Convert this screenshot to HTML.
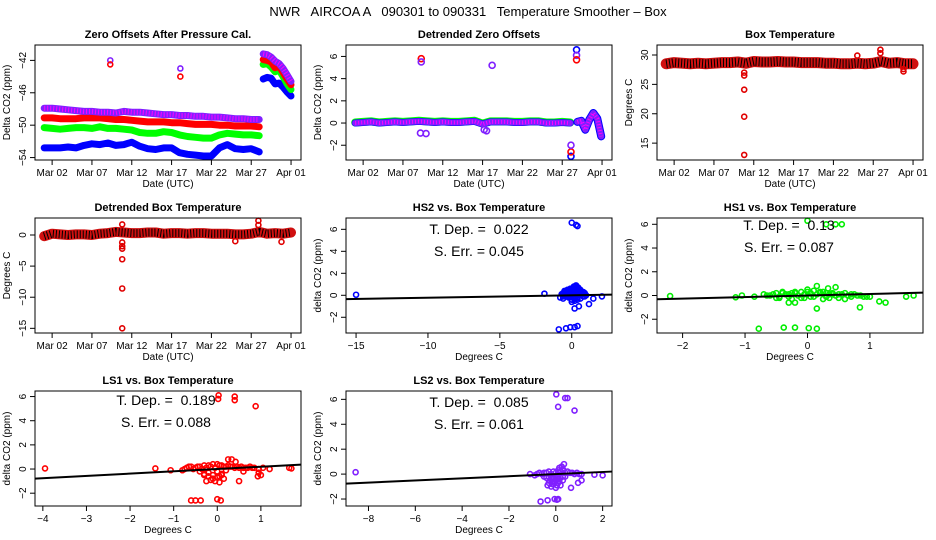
<!DOCTYPE html>
<html><head><meta charset="utf-8"><style>
html,body{margin:0;padding:0;background:#fff;}
svg{display:block;font-family:"Liberation Sans",sans-serif;}
text{white-space:pre;}
</style></head><body>
<svg id="fig" width="936" height="540" viewBox="0 0 936 540">
<text x="468" y="16" text-anchor="middle" font-size="13" xml:space="preserve">NWR   AIRCOA A   090301 to 090331   Temperature Smoother – Box</text>
</svg>
<script>
// ---- Data (days since Mar 01) ----
const dateTicks = [1, 6, 11, 16, 21, 26, 31];
const dateTickLabels = ["Mar 02","Mar 07","Mar 12","Mar 17","Mar 22","Mar 27","Apr 01"];
const mainDays = [0,1,2,3,4,5,6,7,8,9,10,11,12,13,14,15,16,17,18,19,20,21,22,23,24,25,26,27];
const endDays = [27.5,28,28.5,29,29.5,30,30.5,31];
const zeroPurple = [-47.9,-47.9,-48.0,-48.1,-48.2,-48.3,-48.3,-48.4,-48.4,-48.5,-48.3,-48.4,-48.4,-48.5,-48.6,-48.7,-48.7,-48.8,-48.8,-48.9,-48.9,-49.0,-49.0,-49.1,-49.2,-49.2,-49.3,-49.3];
const zeroRed = [-49.1,-49.1,-49.2,-49.2,-49.2,-49.1,-49.1,-49.1,-49.2,-49.3,-49.3,-49.4,-49.5,-49.6,-49.6,-49.6,-49.7,-49.7,-49.8,-49.9,-49.9,-49.9,-50.0,-50.0,-50.1,-50.1,-50.1,-50.2];
const zeroGreen = [-50.3,-50.4,-50.5,-50.4,-50.3,-50.3,-50.4,-50.2,-50.4,-50.4,-50.5,-50.6,-50.9,-51.0,-51.0,-50.8,-50.9,-51.2,-51.4,-51.5,-51.6,-51.6,-51.2,-51.0,-51.1,-51.2,-51.2,-51.3];
const zeroBlue = [-52.8,-52.8,-52.8,-52.7,-52.8,-52.5,-52.3,-52.4,-52.2,-52.5,-52.4,-52.1,-52.6,-52.9,-53.0,-52.8,-52.8,-53.4,-53.6,-53.7,-53.8,-53.8,-52.8,-52.4,-52.9,-53.0,-52.9,-53.3];
const endPurple = [-41.2,-41.3,-41.6,-42.1,-42.4,-43.0,-43.8,-44.6];
const endRed = [-41.9,-42.0,-42.2,-42.9,-42.7,-43.5,-44.3,-45.0];
const endGreen = [-42.5,-42.4,-42.8,-43.4,-43.2,-44.0,-44.9,-45.6];
const endBlue = [-44.3,-44.1,-44.2,-44.9,-44.8,-45.3,-45.9,-46.4];
const zeroOutDays = [8.3, 8.3, 17.1, 17.1];
const zeroOutVals = [-42.0, -42.5, -43.0, -44.0];
const zeroOutColors = ["#8020ff","red","#8020ff","red"];

const detMain = [0,0.05,0.1,0,0.05,0.1,0.05,0.1,0.15,0.1,0.05,0.1,0.05,0.05,0.1,0.15,-0.1,0.1,0.1,0.1,0.05,0.05,0.1,0.1,0,0,0.05,0];
const detEndDays = [27.9,28.4,28.9,29.4,29.9,30.4,30.9];
const detEnd = [0.1,0.2,-0.6,0.3,0.9,0.4,-1.2];
const detOutDays = [8.3,8.3,8.2,8.9,16.2,16.5,17.2,27.1,27.1,27.1,27.8,27.8,27.8];
const detOutVals = [5.8,5.5,-0.9,-0.95,-0.6,-0.7,5.2,-3.0,-2.6,-2.0,6.6,6.1,5.7];
const detOutColors = ["red","#8020ff","#8020ff","#8020ff","#8020ff","#8020ff","#8020ff","blue","red","#8020ff","blue","#8020ff","red"];

const boxDays = [0,1,2,3,4,5,6,7,8,9,10,11,12,13,14,15,16,17,18,19,20,21,22,23,24,25,26,27,28,29,30,31];
const boxTemp = [28.5,28.7,28.6,28.5,28.6,28.5,28.6,28.7,28.7,28.8,28.6,28.9,28.8,28.8,28.9,28.8,28.8,28.7,28.7,28.7,28.6,28.6,28.5,28.5,28.6,28.5,28.6,28.9,28.6,28.7,28.5,28.5];
const boxOutDays = [9.8,9.8,9.8,9.8,9.8,24.0,26.9,26.9,29.8,29.8];
const boxOutVals = [27.0,26.5,24.1,19.5,13.0,29.9,30.9,30.3,27.6,27.2];

const detBox = [-0.2,0.2,0.1,0,0.1,0.1,0,0.2,0.3,0.5,0.4,0.3,0.3,0.4,0.4,0.2,0.3,0.3,0.2,0.3,0.3,0.2,0.2,0.2,0.1,0.1,0.2,0.5,0.2,0.3,0.2,0.4];
const detBoxOutDays = [9.8,9.8,9.8,9.8,9.8,9.8,9.8,26.9,26.9,29.8,24.0];
const detBoxOutVals = [1.7,-1.2,-1.8,-2.2,-3.9,-8.6,-15.0,2.3,1.6,-1.1,-1.0];

// scatter: HS2
const hs2X = [-15,-1.9,0,0.3,0.4,-0.9,-0.4,-0.1,0.2,0.4,0.2,0.5,1.2,1.5,2.1,-0.8,-0.6,-0.5,-0.3,-0.2,-0.1,0,0.1,0.2,0.3,0.4,0.5,0.6,0.7,0.8,0.9,1.0,-0.6,-0.4,-0.2,0,0.2,0.4,0.6,0.8,-0.3,-0.1,0.1,0.3,0.5,0,0.2,0.4,-0.5,0.9,
 -0.7,-0.5,-0.3,-0.1,0.1,0.3,0.5,0.7,-0.6,-0.4,-0.2,0,0.2,0.4,0.6,-0.5,-0.3,-0.1,0.1,0.3,0.5,-0.2,0,0.2,0.4,0.15,0.3,0.45,0.6,0.8];
const hs2Y = [0.05,0.15,6.6,6.4,6.3,-3.1,-3.0,-2.9,-2.9,-2.8,-1.2,-1.0,-0.8,-0.3,-0.1,-0.2,0.2,0.1,0.3,0.4,0.3,0.5,0.5,0.7,0.8,0.6,0.4,0.3,0.2,0.1,0.2,0,-0.3,-0.1,-0.2,-0.4,-0.3,-0.2,-0.3,-0.1,0,0.1,0.2,0.1,0,-0.6,-0.5,-0.4,0.1,-0.1,
 0.1,0.3,0.2,0.1,0.3,0.4,0.2,0.1,-0.1,0,0.5,0.2,0.1,0,0.1,0.4,0.5,0.6,0.6,0.6,0.5,-0.1,0.0,-0.1,0.2,0.8,0.9,0.7,0.5,0.3];
const hs2Slope = 0.022, hs2Int = 0;
// HS1
const hs1X = [-2.2,-1.15,-1.05,-0.85,-0.78,-0.38,-0.2,0.02,0.15,0.3,0.45,0.55,0,0.33,0.45,0.15,0.84,1.15,1.25,1.58,1.7,-0.7,-0.6,-0.5,-0.4,-0.3,-0.2,-0.1,0,0.1,0.2,0.3,0.4,0.5,0.6,0.7,0.8,0.9,1.0,-0.45,-0.25,-0.05,0.05,0.25,-0.3,-0.2,0.15,0.35,0.6,0.95,
 -0.65,-0.55,-0.45,-0.35,-0.25,-0.15,-0.05,0.05,0.15,0.25,0.35,0.45,0.55,0.65,0.75,0.85,-0.5,-0.3,-0.1,0.1,0.3,0.5,0.7,-0.4,-0.2,0,0.2,0.4];
const hs1Y = [-0.05,-0.15,0,-0.1,-2.8,-2.7,-2.7,-2.75,-2.8,6.0,6.0,6.0,6.3,0.6,0.7,0.8,-1.0,-0.5,-0.6,-0.1,0,0.1,0,0.2,0.3,0.1,0.2,0.3,0.5,0.4,0.3,0.2,0.2,0.1,0.2,0.1,0,-0.1,-0.1,-0.2,-0.3,-0.2,-0.1,-0.3,-0.6,-0.6,-1.1,-0.2,-0.3,-0.1,
 0,0.1,-0.1,0.1,0.2,0,0.1,0.2,0.1,0.3,0.1,0,0.1,0,0.1,0,-0.2,-0.1,-0.2,-0.1,-0.1,-0.2,-0.1,0.2,0.3,0.3,0.2,0.1];
const hs1Slope = 0.13, hs1Int = 0;
// LS1
const ls1X = [-3.95,-1.42,-1.07,-0.6,-0.5,-0.38,0,0.08,0.02,0.03,0.4,0.4,0.88,0.25,0.33,0.42,0.5,0.93,1.0,1.2,1.65,1.7,-0.8,-0.7,-0.6,-0.5,-0.4,-0.3,-0.2,-0.1,0,0.1,0.2,0.3,0.4,0.5,0.6,0.7,0.8,-0.3,-0.2,-0.1,0,0.1,-0.25,-0.05,0.05,0.15,0.6,0.95,
 -0.75,-0.65,-0.55,-0.45,-0.35,-0.25,-0.15,-0.05,0.05,0.15,0.25,0.35,0.45,0.55,0.65,0.75,-0.4,-0.2,0,0.2,-0.3,-0.1,0.1,-0.15,0.05,0.85,0.95,1.05];
const ls1Y = [0.05,0.05,-0.1,-2.6,-2.6,-2.6,-2.5,-2.6,5.8,6.1,5.7,6.0,5.2,0.8,0.8,0.6,-1.0,-0.6,-0.5,0,0.1,0.05,-0.1,0.1,0.2,0.1,0.2,0.3,0.3,0.4,0.4,0.3,0.2,0.2,0.1,0.1,0.1,0.1,0.1,-0.4,-0.6,-0.8,-0.7,-0.5,-1.0,-1.0,-1.1,-0.8,-0.2,-0.3,
 0,0.2,0,0.2,0,0.1,0.2,0.1,0.3,0.2,0.3,0.2,0.2,0.2,0.1,0.2,-0.2,-0.3,-0.2,-0.1,-0.5,-0.5,-0.4,-0.9,-0.6,0.1,0,0.1];
const ls1Slope = 0.189, ls1Int = 0;
// LS2
const ls2X = [-8.55,0.02,0.1,0.4,0.5,0.8,-0.65,-0.35,-0.05,0.05,0.1,0.65,0.95,1.1,1.65,2.0,-1.1,-0.9,-0.7,-0.5,-0.3,-0.1,0.1,0.3,0.5,0.7,0.9,1.1,-0.4,-0.2,0,0.2,0.4,-0.3,-0.1,0.1,0.3,-0.2,0,0.2,0.35,0.25,-0.35,-0.15,0.05,
 -0.8,-0.6,-0.4,-0.2,0,0.2,0.4,0.6,0.8,1.0,-0.5,-0.3,-0.1,0.1,0.3,-0.25,-0.05,0.15,-0.15,0.05,0.15,0.3,0.1,-0.1];
const ls2Y = [0.15,6.4,5.4,6.1,6.1,5.1,-2.2,-2.1,-2.0,-2.05,-2.0,-1.1,-0.7,-0.5,-0.05,-0.1,0,-0.1,0.1,0.1,0.2,0.2,0.3,0.3,0.2,0.1,0.1,0,-0.3,-0.4,-0.5,-0.3,-0.2,-0.7,-0.8,-0.7,-0.5,-1.0,-1.1,-0.9,0.8,0.6,-0.9,-0.6,-0.3,
 0,0,0.1,0,0.1,0.2,0.1,0.1,0,0,-0.2,-0.2,-0.3,-0.2,-0.2,-0.5,-0.6,-0.6,-0.8,-0.9,0.5,0.4,-0.4,-0.4];
const ls2Slope = 0.085, ls2Int = 0;

// ---- rendering ----
const NS = "http://www.w3.org/2000/svg";
const svg = document.getElementById("fig");
function mk(tag, attrs, parent){const e=document.createElementNS(NS,tag);for(const k in attrs)e.setAttribute(k,attrs[k]);(parent||svg).appendChild(e);return e;}
const PW=266, PH=115;

function panel(cfg){
  const g = mk("g",{});
  
  
  const L=cfg.left, T=cfg.top;
  const sx = v => L + (v-cfg.x0)/(cfg.x1-cfg.x0)*PW;
  const sy = v => T + (cfg.y1-v)/(cfg.y1-cfg.y0)*PH;
  const t = mk("text",{x:L+PW/2,y:T-7,"text-anchor":"middle","font-size":"11","font-weight":"bold"},g);
  t.textContent = cfg.title;
  
  
  const plot = mk("g",{},g);
  
  
  const box = mk("rect",{x:L,y:T,width:PW,height:PH,fill:"none",stroke:"#000","stroke-width":"1"},g);
  
  
  const xa = mk("g",{},g);
  
  
  cfg.xt.forEach((v,i)=>{
    const x=sx(v);
    mk("line",{x1:x,x2:x,y1:T+PH,y2:T+PH+5,stroke:"#000"},xa);
    const tl=mk("text",{x:x,y:T+PH+16,"text-anchor":"middle","font-size":"10"},xa);
    tl.textContent=cfg.xl[i];
    
    
  });
  const xt=mk("text",{x:L+PW/2,y:T+PH+27,"text-anchor":"middle","font-size":"10"},g);
  xt.textContent=cfg.xlab;
  
  
  const ya = mk("g",{},g);
  
  
  cfg.yt.forEach(v=>{
    const y=sy(v);
    mk("line",{x1:L-5,x2:L,y1:y,y2:y,stroke:"#000"},ya);
    const tl=mk("text",{x:0,y:0,"text-anchor":"middle","font-size":"10",transform:`translate(${L-9},${y}) rotate(-90)`},ya);
    tl.textContent=(v<0?"\u2212"+(-v):String(v));
    
    
  });
  const yt=mk("text",{x:0,y:0,"text-anchor":"middle","font-size":"10",transform:`translate(${L-25},${T+PH/2}) rotate(-90)`},g);
  yt.textContent=cfg.ylab;
  
  
  return {plot,sx,sy,L,T};
}
function band(p, xs, ys, color, w, name, dots){
  const pts = xs.map((x,i)=>p.sx(x).toFixed(1)+","+p.sy(ys[i]).toFixed(1)).join(" ");
  const l = mk("polyline",{points:pts,fill:"none",stroke:color,"stroke-width":w,"stroke-linecap":"round","stroke-linejoin":"round"},p.plot);
  
  
  if(dots){
    const d = mk("polyline",{points:pts,fill:"none",stroke:dots,"stroke-width":w-2,"stroke-dasharray":"1 2"},p.plot);
    
    
  }
}
function pts(p, xs, ys, colors, name, r){
  xs.forEach((x,i)=>{
    const c = mk("circle",{cx:p.sx(x),cy:p.sy(ys[i]),r:r||2.5,fill:"none",stroke:Array.isArray(colors)?colors[i]:colors,"stroke-width":"1.6"},p.plot);
    
    
  });
}
function regline(p, x0, x1, slope, icpt, name){
  const l = mk("line",{x1:p.sx(x0),x2:p.sx(x1),y1:p.sy(icpt+slope*x0),y2:p.sy(icpt+slope*x1),stroke:"#000","stroke-width":"2"},p.plot);
  
  
}
function annot(p, cx, y, t1, t2){
  const a=mk("text",{x:cx,y:y,"text-anchor":"middle","font-size":"14"},p.plot);
  a.textContent=t1;
  
  
  const b=mk("text",{x:cx,y:y+22,"text-anchor":"middle","font-size":"14"},p.plot);
  b.textContent=t2;
  
  
}
const DX0=-1.15, DX1=32.25;

// Panel 1
let p = panel({name:"zero-offsets-panel",left:35,top:45,x0:DX0,x1:DX1,y0:-54.3,y1:-40.1,xt:dateTicks,xl:dateTickLabels,yt:[-54,-50,-46,-42],title:"Zero Offsets After Pressure Cal.",xlab:"Date (UTC)",ylab:"Delta CO2 (ppm)"});
band(p,mainDays,zeroBlue,"#0000ff",7,"series-hs2");
band(p,mainDays,zeroGreen,"#00ff00",7,"series-hs1");
band(p,mainDays,zeroRed,"#ff0000",7,"series-ls1");
band(p,mainDays,zeroPurple,"#8020ff",7,"series-ls2","#ff00ff");
band(p,endDays,endBlue,"#0000ff",7,"series-hs2-end");
band(p,endDays,endGreen,"#00ff00",7,"series-hs1-end");
band(p,endDays,endRed,"#ff0000",7,"series-ls1-end");
band(p,endDays,endPurple,"#8020ff",7,"series-ls2-end","#ff00ff");
pts(p,zeroOutDays,zeroOutVals,zeroOutColors,"outlier-point");

// Panel 2
p = panel({name:"detrended-zero-offsets-panel",left:346,top:45,x0:DX0,x1:DX1,y0:-3.33,y1:7.03,xt:dateTicks,xl:dateTickLabels,yt:[-2,0,2,4,6],title:"Detrended Zero Offsets",xlab:"Date (UTC)",ylab:"Delta CO2 (ppm)"});
band(p,mainDays,detMain.map(v=>v+0.05),"#00ff00",8,"series-hs1");
band(p,mainDays,detMain,"#0000ff",7,"series-hs2");
band(p,mainDays,detMain,"#8020ff",6,"series-ls2","#ff00ff");
band(p,detEndDays,detEnd,"#0000ff",8,"series-hs2-end");
band(p,detEndDays,detEnd,"#8020ff",6,"series-ls2-end","#ff00ff");
pts(p,detOutDays,detOutVals,detOutColors,"outlier-point",3);

// Panel 3
p = panel({name:"box-temperature-panel",left:657,top:45,x0:DX0,x1:DX1,y0:12.13,y1:31.7,xt:dateTicks,xl:dateTickLabels,yt:[15,20,25,30],title:"Box Temperature",xlab:"Date (UTC)",ylab:"Degrees C"});
band(p,boxDays,boxTemp,"#d01010",11,"box-temp-series","#000");
pts(p,boxOutDays,boxOutVals,"#e00000","outlier-point");

// Panel 4
p = panel({name:"detrended-box-temperature-panel",left:35,top:218,x0:DX0,x1:DX1,y0:-15.75,y1:2.73,xt:dateTicks,xl:dateTickLabels,yt:[-15,-10,-5,0],title:"Detrended Box Temperature",xlab:"Date (UTC)",ylab:"Degrees C"});
band(p,boxDays,detBox,"#d01010",10,"detrended-box-temp-series","#000");
pts(p,detBoxOutDays,detBoxOutVals,"#e00000","outlier-point");

// Panel 5 HS2
p = panel({name:"hs2-scatter-panel",left:346,top:218,x0:-15.7,x1:2.8,y0:-3.43,y1:7.03,xt:[-15,-10,-5,0],xl:["\u221215","\u221210","\u22125","0"],yt:[-2,0,2,4,6],title:"HS2 vs. Box Temperature",xlab:"Degrees C",ylab:"delta CO2 (ppm)"});
pts(p,hs2X,hs2Y,"#0000ff","hs2-point");
regline(p,-15.7,2.8,hs2Slope,hs2Int,"regression-line");
annot(p,479,234,"T. Dep. =  0.022","S. Err. = 0.045");

// Panel 6 HS1
p = panel({name:"hs1-scatter-panel",left:657,top:218,x0:-2.41,x1:1.85,y0:-3.16,y1:6.53,xt:[-2,-1,0,1],xl:["\u22122","\u22121","0","1"],yt:[-2,0,2,4,6],title:"HS1 vs. Box Temperature",xlab:"Degrees C",ylab:"delta CO2 (ppm)"});
pts(p,hs1X,hs1Y,"#00ee00","hs1-point");
regline(p,-2.41,1.85,hs1Slope,hs1Int,"regression-line");
annot(p,789,230,"T. Dep. =  0.13","S. Err. = 0.087");

// Panel 7 LS1
p = panel({name:"ls1-scatter-panel",left:35,top:391,x0:-4.18,x1:1.92,y0:-3.06,y1:6.46,xt:[-4,-3,-2,-1,0,1],xl:["\u22124","\u22123","\u22122","\u22121","0","1"],yt:[-2,0,2,4,6],title:"LS1 vs. Box Temperature",xlab:"Degrees C",ylab:"delta CO2 (ppm)"});
pts(p,ls1X,ls1Y,"#ff0000","ls1-point");
regline(p,-4.18,1.92,ls1Slope,ls1Int,"regression-line");
annot(p,166,405,"T. Dep. =  0.189","S. Err. = 0.088");

// Panel 8 LS2
p = panel({name:"ls2-scatter-panel",left:346,top:391,x0:-8.96,x1:2.4,y0:-2.56,y1:6.67,xt:[-8,-6,-4,-2,0,2],xl:["\u22128","\u22126","\u22124","\u22122","0","2"],yt:[-2,0,2,4,6],title:"LS2 vs. Box Temperature",xlab:"Degrees C",ylab:"delta CO2 (ppm)"});
pts(p,ls2X,ls2Y,"#8020ff","ls2-point");
regline(p,-8.96,2.4,ls2Slope,ls2Int,"regression-line");
annot(p,479,407,"T. Dep. =  0.085","S. Err. = 0.061");
</script>
</body></html>
